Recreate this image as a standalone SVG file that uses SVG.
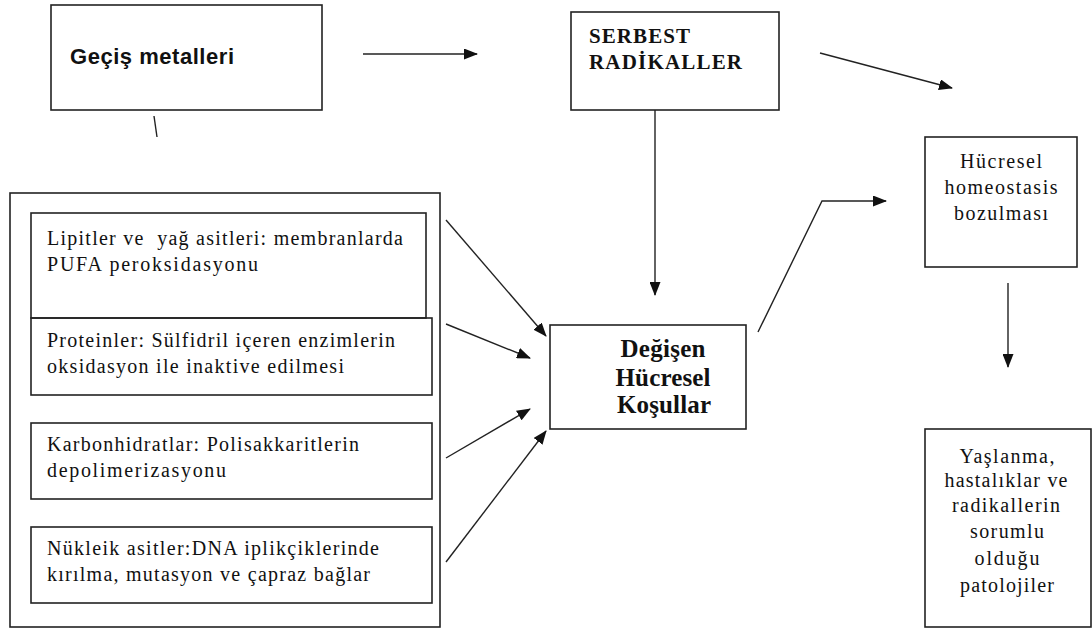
<svg xmlns="http://www.w3.org/2000/svg" width="1092" height="632" viewBox="0 0 1092 632">
<defs>
<marker id="ah" markerWidth="14" markerHeight="11" refX="13" refY="5.5" orient="auto" markerUnits="userSpaceOnUse">
<path d="M0,0 L14,5.5 L0,11 Z" fill="#111"/>
</marker>
<style>
.box{fill:none;stroke:#222;stroke-width:1.6}
.ln{fill:none;stroke:#222;stroke-width:1.4}
.ar{fill:none;stroke:#222;stroke-width:1.4;marker-end:url(#ah)}
.t{font-family:'Liberation Serif','DejaVu Serif','Times New Roman',serif;font-size:20px;fill:#111;white-space:pre}
.tc{font-family:'Liberation Serif','DejaVu Serif','Times New Roman',serif;font-size:20px;fill:#111;text-anchor:middle}
.tb{font-family:'Liberation Serif','DejaVu Serif','Times New Roman',serif;font-size:25px;font-weight:bold;fill:#111;text-anchor:middle}
.ts{font-family:'Liberation Serif','DejaVu Serif','Times New Roman',serif;font-size:21px;font-weight:bold;fill:#111}
.tg{font-family:'Liberation Sans',Arial,sans-serif;font-size:22px;font-weight:bold;fill:#111}
</style>
</defs>
<rect width="1092" height="632" fill="#fff"/>

<g id="gecis">
<rect class="box" x="51" y="5" width="271" height="105"/>
<text class="tg" x="70" y="64" textLength="164">Geçiş metalleri</text>
</g>

<g id="serbest">
<rect class="box" x="571" y="12" width="208" height="98"/>
<text class="ts" x="589" y="43" textLength="101">SERBEST</text>
<text class="ts" x="589" y="69" textLength="153">RADİKALLER</text>
</g>

<g id="hedefler">
<rect class="box" x="10" y="193" width="430" height="434"/>
</g>

<g id="lipitler">
<rect class="box" x="31" y="213" width="395" height="105"/>
<text class="t" x="47" y="245" textLength="356">Lipitler ve  yağ asitleri: membranlarda</text>
<text class="t" x="47" y="271" textLength="211">PUFA peroksidasyonu</text>
</g>

<g id="proteinler">
<rect class="box" x="31" y="318" width="401" height="77"/>
<text class="t" x="47" y="347" textLength="348">Proteinler: Sülfidril içeren enzimlerin</text>
<text class="t" x="47" y="373" textLength="297">oksidasyon ile inaktive edilmesi</text>
</g>

<g id="karbonhidratlar">
<rect class="box" x="31" y="423" width="401" height="76"/>
<text class="t" x="47" y="451" textLength="312">Karbonhidratlar: Polisakkaritlerin</text>
<text class="t" x="47" y="477" textLength="179">depolimerizasyonu</text>
</g>

<g id="nukleik">
<rect class="box" x="31" y="527" width="401" height="76"/>
<text class="t" x="47" y="555" textLength="332">Nükleik asitler:DNA iplikçiklerinde</text>
<text class="t" x="47" y="581" textLength="323">kırılma, mutasyon ve çapraz bağlar</text>
</g>

<g id="degisen">
<rect class="box" x="550" y="325" width="196" height="104"/>
<text class="tb" x="663" y="357" textLength="85">Değişen</text>
<text class="tb" x="663" y="386" textLength="95">Hücresel</text>
<text class="tb" x="664" y="413" textLength="94">Koşullar</text>
</g>

<g id="homeostasis">
<rect class="box" x="925" y="137" width="152" height="130"/>
<text class="tc" x="1001" y="168" textLength="82">Hücresel</text>
<text class="tc" x="1001" y="194" textLength="113">homeostasis</text>
<text class="tc" x="1001" y="220" textLength="94">bozulması</text>
</g>

<g id="yaslanma">
<rect class="box" x="925" y="429" width="166" height="198"/>
<text class="tc" x="1007" y="463" textLength="95">Yaşlanma,</text>
<text class="tc" x="1006" y="487" textLength="123">hastalıklar ve</text>
<text class="tc" x="1006" y="512" textLength="108">radikallerin</text>
<text class="tc" x="1007" y="538" textLength="74">sorumlu</text>
<text class="tc" x="1007" y="565" textLength="65">olduğu</text>
<text class="tc" x="1007" y="592" textLength="94">patolojiler</text>
</g>

<g id="connectors">
<line class="ln" x1="154" y1="116" x2="157" y2="137"/>
<line class="ar" x1="363" y1="54" x2="477" y2="54"/>
<line class="ar" x1="820" y1="53" x2="952" y2="88"/>
<line class="ar" x1="655" y1="110" x2="655" y2="295"/>
<line class="ar" x1="446" y1="220" x2="546" y2="336"/>
<line class="ar" x1="446" y1="324" x2="530" y2="358"/>
<line class="ar" x1="446" y1="458" x2="530" y2="409"/>
<line class="ar" x1="446" y1="562" x2="546" y2="431"/>
<polyline class="ar" points="758,332 822,201 886,201"/>
<line class="ar" x1="1008" y1="283" x2="1008" y2="367"/>
</g>
</svg>
